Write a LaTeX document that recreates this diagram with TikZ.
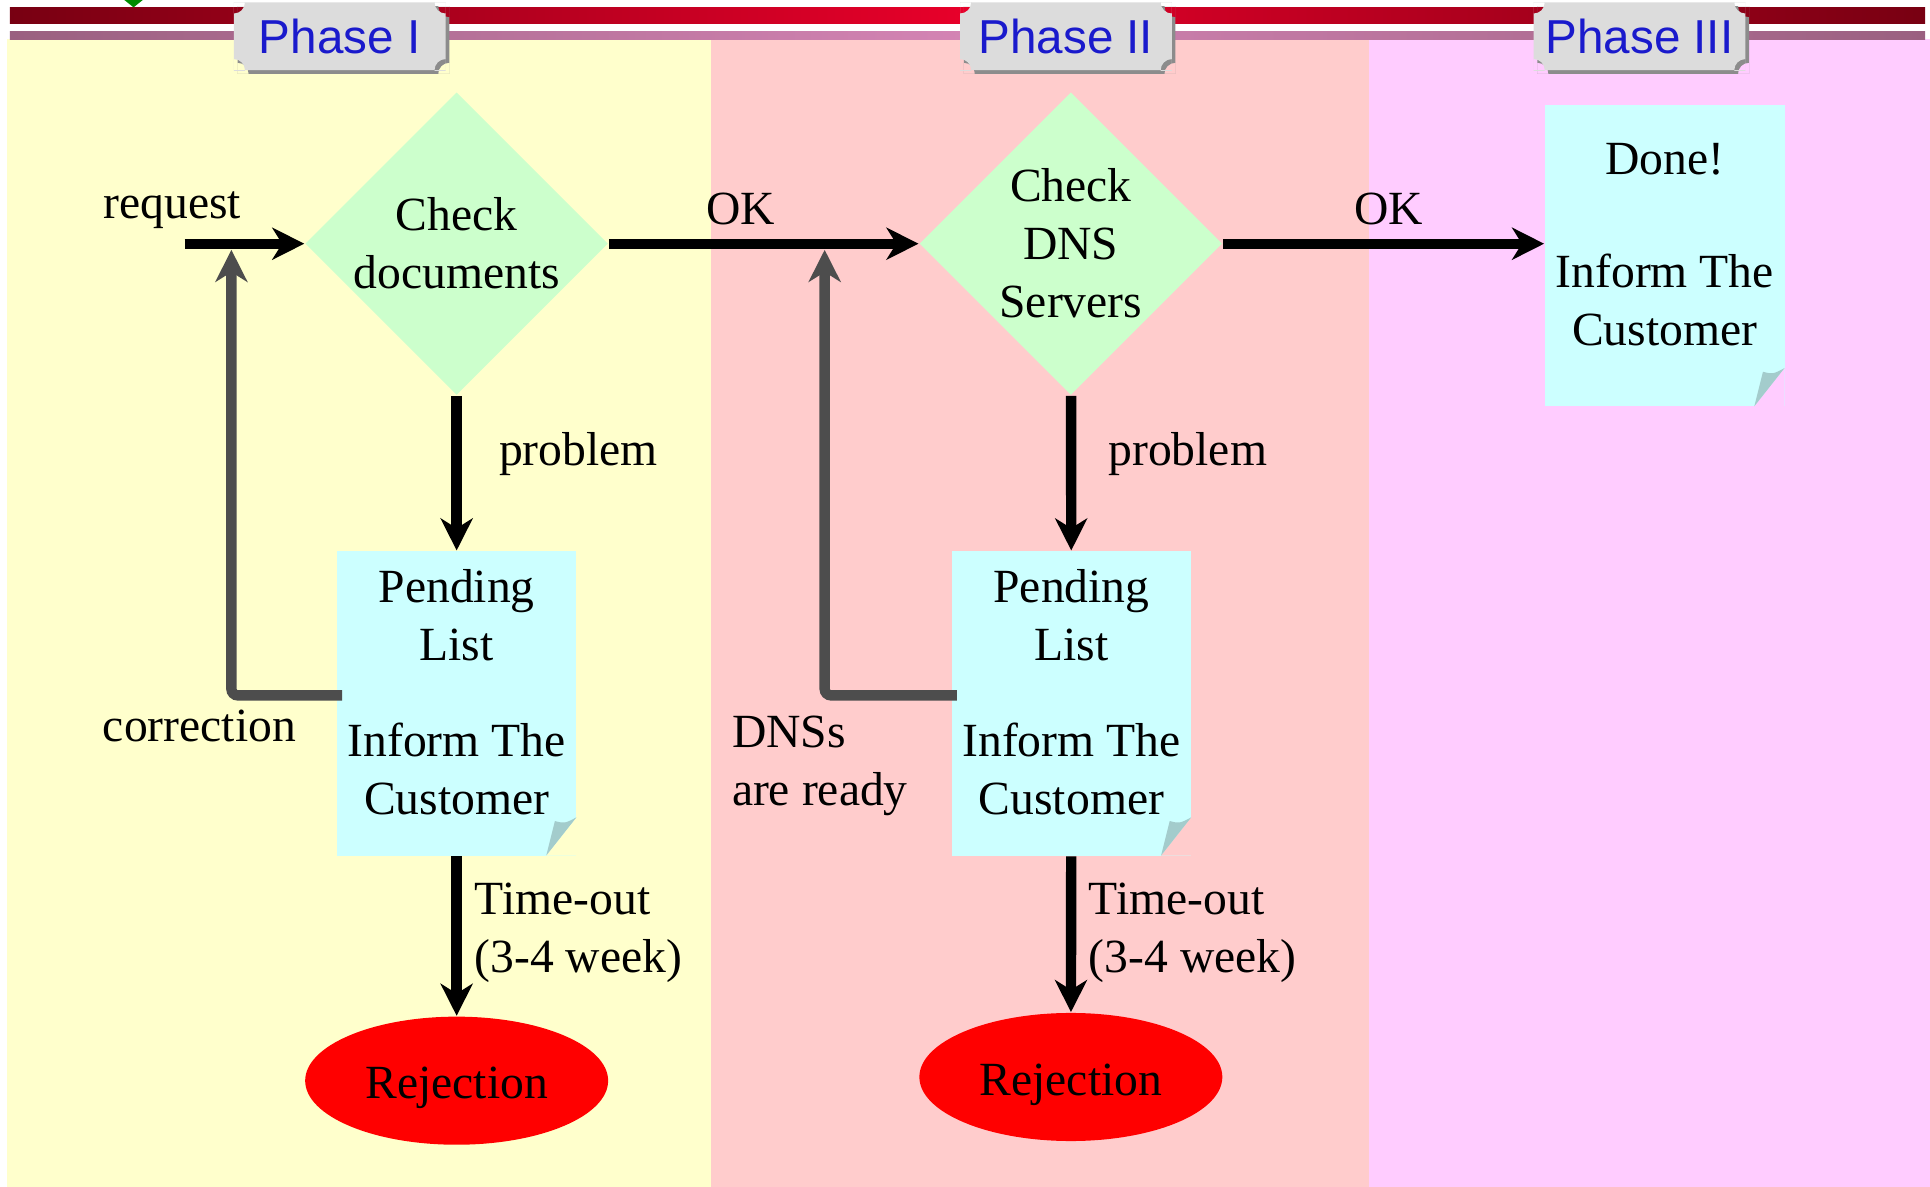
\documentclass[tikz,border=0pt]{standalone}
\usepackage{fontspec}
\setmainfont{Liberation Serif}
\newfontfamily\tabfont{Liberation Sans}
\usetikzlibrary{shapes.geometric,arrows.meta}
\definecolor{laneA}{HTML}{FFFFCC}
\definecolor{laneB}{HTML}{FFCCCC}
\definecolor{laneC}{HTML}{FFCCFF}
\definecolor{checkgreen}{HTML}{CCFFCC}
\definecolor{notecyan}{HTML}{CCFFFF}
\definecolor{notefold}{HTML}{A3CCCC}
\definecolor{tabgray}{HTML}{DCDCDC}
\definecolor{tabshade}{HTML}{8C8C8C}
\definecolor{tabblue}{HTML}{1A1ACC}
\definecolor{backgray}{HTML}{4D4D4D}
\definecolor{bardark}{HTML}{780012}
\definecolor{barred}{HTML}{E8002A}
\definecolor{mauvedark}{HTML}{9A6080}
\definecolor{mauvelight}{HTML}{D484B4}
\newcommand{\flowfont}{\fontsize{11}{13.4}\selectfont}
\newcommand{\lowstrut}{\rule[-0.18cm]{0pt}{0.18cm}}
\tikzstyle{check} = [diamond, fill=checkgreen, minimum width=2.46cm, minimum height=2.46cm, inner sep=-1pt, align=center, font=\flowfont]
\tikzstyle{reject} = [ellipse, fill=red, minimum width=2.46cm, minimum height=1.04cm, text height=8.4pt, text depth=0pt, font=\flowfont]
\tikzstyle{phase} = [inner sep=0pt, text=tabblue, font=\tabfont\fontsize{11}{13}\selectfont]
\tikzstyle{lbl} = [inner sep=0pt, align=left, font=\flowfont]
\tikzstyle{flow} = [line width=2.4pt, -{Stealth[length=0.26cm, width=0.26cm, inset=0.08cm]}]
\tikzstyle{back} = [flow, draw=backgray, rounded corners=1.5pt]
\tikzset{note/.style={rectangle, fill=notecyan, minimum width=1.945cm, inner sep=0pt, align=center, font=\flowfont,
  path picture={
    \fill[#1] ([yshift=0.31cm]path picture bounding box.south east) -- ([xshift=-0.245cm]path picture bounding box.south east) -- (path picture bounding box.south east) -- cycle;
    \fill[notefold] ([xshift=-0.245cm]path picture bounding box.south east) -- ([xshift=-0.175cm,yshift=0.28cm]path picture bounding box.south east)
      .. controls ([xshift=-0.095cm,yshift=0.26cm]path picture bounding box.south east) .. ([yshift=0.31cm]path picture bounding box.south east) -- cycle;
  }}}
% tab with scooped corners: #1 name, #2 centre x, #3 text
\newcommand{\phasetab}[3]{%
  \begin{scope}
    \clip (#2-83,5) rectangle (#2+89,60);
    \fill[tabshade, even odd rule] (#2-83,5) rectangle (#2+89,60)
      (#2-83,5) circle[radius=9] (#2+89,5) circle[radius=9]
      (#2-83,60) circle[radius=9] (#2+89,60) circle[radius=9];
  \end{scope}
  \begin{scope}
    \clip (#2-86,2) rectangle (#2+86,57);
    \fill[tabgray, even odd rule] (#2-86,2) rectangle (#2+86,57)
      (#2-86,2) circle[radius=9] (#2+86,2) circle[radius=9]
      (#2-86,57) circle[radius=9] (#2+86,57) circle[radius=9];
  \end{scope}
  \node[phase] (#1) at (#2,30) {#3};
}

\begin{document}
\begin{tikzpicture}[x=0.01cm, y=-0.01cm]
	\useasboundingbox (0,0) rectangle (1568,964);
	% lanes and header
	\fill[laneA] (6,31.7) rectangle (578,964);
	\fill[laneB] (578,31.7) rectangle (1112,964);
	\fill[laneC] (1112,31.7) rectangle (1568,964);
	\shade[left color=bardark, right color=bardark, middle color=barred] (8,6) rectangle (1564,19);
	\shade[left color=mauvedark, right color=mauvedark, middle color=mauvelight] (8,25.7) rectangle (1564,31.7);
	\fill[green!55!black] (101,0) -- (116,0) -- (108.5,6) -- cycle;
	\phasetab{tab1}{276}{Phase I}
	\phasetab{tab2}{866}{Phase II}
	\phasetab{tab3}{1332}{Phase III}

	% phase I
	\node[check] (chk1) at (371,198) {Check\\documents};
	\node[note=laneA, minimum height=2.47cm] (pend1) at (371,571.5) {Pending\\List\\[0.31cm]Inform The\\Customer\lowstrut};
	\node[reject] (rej1) at (371,878) {Rejection};
	% phase II
	\node[check] (chk2) at (870,198) {Check\\DNS\\Servers};
	\node[note=laneB, minimum height=2.47cm] (pend2) at (870.5,571.5) {Pending\\List\\[0.31cm]Inform The\\Customer\lowstrut};
	\node[reject] (rej2) at (870,875) {Rejection};
	% phase III
	\node[note=laneC, minimum height=2.45cm] (done) at (1352.5,207.5) {Done!\\[0.45cm]Inform The\\Customer\lowstrut};

	\coordinate (req) at (150,198);
	\coordinate (fix1) at (188,203);
	\coordinate (fix2) at (670,203);
	\draw[flow] (req) -- (chk1);
	\draw[flow] (chk1) -- (chk2);
	\draw[flow] (chk2.east) -- (chk2.east -| done.west);
	\draw[flow] (chk1) -- (pend1);
	\draw[flow] (pend1) -- (rej1);
	\draw[flow] (chk2) -- (pend2);
	\draw[flow] (pend2) -- (rej2);
	\draw[back] ([xshift=0.05cm, yshift=0.065cm]pend1.west) -| (fix1);
	\draw[back] ([xshift=0.05cm, yshift=0.065cm]pend2.west) -| (fix2);

	\node[lbl] (reqlbl) at (140,171) {request};
	\node[lbl] (ok1) at (602,170) {OK};
	\node[lbl] (ok2) at (1128,170) {OK};
	\node[lbl] (prob1) at (470,369) {problem};
	\node[lbl] (prob2) at (965,369) {problem};
	\node[lbl] (corr) at (162,590) {correction};
	\node[lbl, anchor=west] (dns) at (594,622) {DNSs\\are ready};
	\node[lbl, anchor=west] (out1) at (385,758) {Time-out\\(3-4 week)};
	\node[lbl, anchor=west] (out2) at (884,758) {Time-out\\(3-4 week)};
\end{tikzpicture}
\end{document}
